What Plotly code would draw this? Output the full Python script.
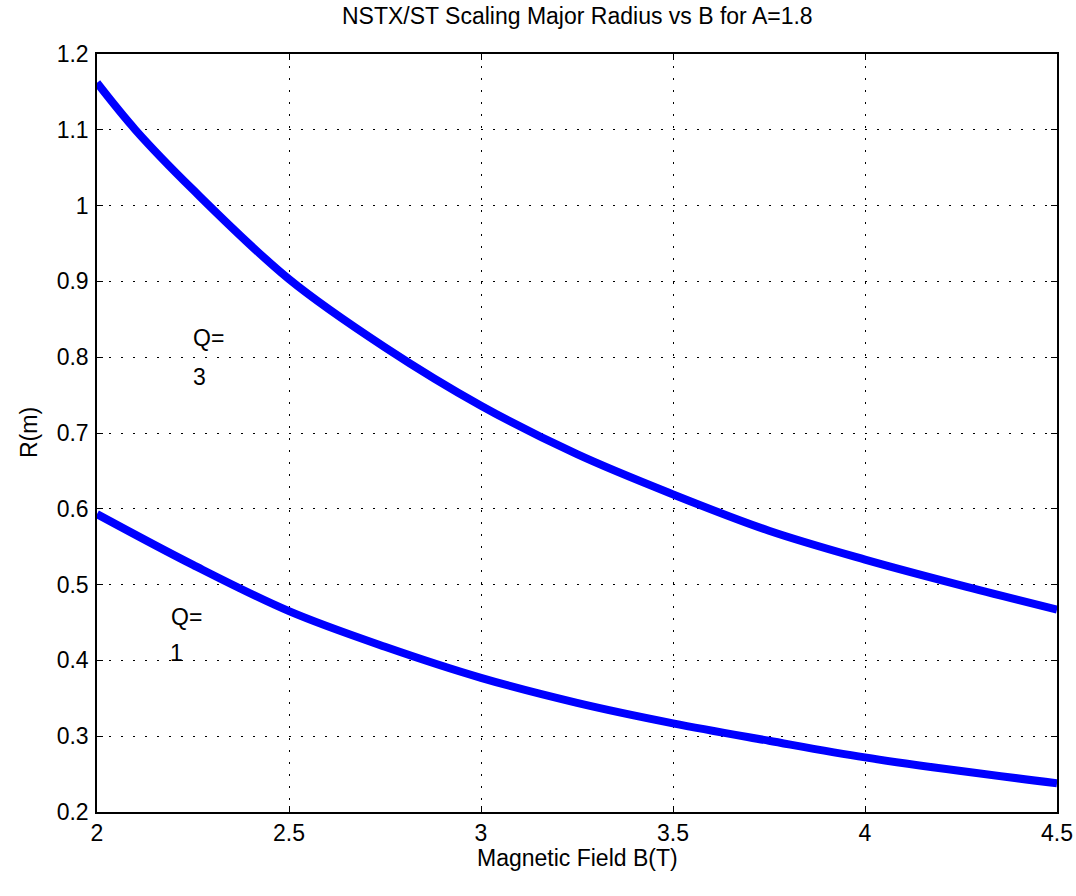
import plotly.graph_objects as go

B_q3 = [2.0, 2.1, 2.25, 2.5, 2.75, 3.0, 3.25, 3.5, 3.75, 4.0, 4.25, 4.5]
R_q3 = [1.162, 1.1, 1.021, 0.903, 0.813, 0.736, 0.672, 0.619, 0.571, 0.533, 0.499, 0.467]
B_q1 = [2.0, 2.25, 2.5, 2.75, 3.0, 3.25, 3.5, 3.75, 4.0, 4.25, 4.5]
R_q1 = [0.593, 0.526, 0.465, 0.418, 0.377, 0.344, 0.317, 0.294, 0.272, 0.254, 0.238]

x_ticks = [2, 2.5, 3, 3.5, 4, 4.5]
x_labels = ["2", "2.5", "3", "3.5", "4", "4.5"]
y_ticks = [0.2, 0.3, 0.4, 0.5, 0.6, 0.7, 0.8, 0.9, 1.0, 1.1, 1.2]
y_labels = ["0.2", "0.3", "0.4", "0.5", "0.6", "0.7", "0.8", "0.9", "1", "1.1", "1.2"]

labels = [
    (2.29, 0.825, "Q="), (2.266, 0.774, "3"),
    (2.234, 0.457, "Q="), (2.208, 0.410, "1"),
]

TITLE = "NSTX/ST Scaling Major Radius vs B for A=1.8"
XTITLE = "Magnetic Field B(T)"
YTITLE = "R(m)"

FONT = "Liberation Sans"
FS = 23
fig = go.Figure()
for xs, ys in ((B_q3, R_q3), (B_q1, R_q1)):
    fig.add_trace(go.Scatter(x=xs, y=ys, mode="lines",
                             line=dict(color="#0000FF", width=8, shape="spline", smoothing=1.0),
                             showlegend=False, hoverinfo="skip"))

for x, y, t in labels:
    fig.add_annotation(x=x, y=y, text=t, showarrow=False, font=dict(family=FONT, size=FS, color="black"))

# titles placed relative to the plot area
fig.add_annotation(xref="paper", yref="paper", x=0.5, y=1, yshift=38, text=TITLE, showarrow=False,
                   xanchor="center", yanchor="middle", borderpad=0,
                   font=dict(family=FONT, size=FS, color="black"))
fig.add_annotation(xref="paper", yref="paper", x=0.5, y=0, yshift=-46, text=XTITLE, showarrow=False,
                   xanchor="center", yanchor="middle", font=dict(family=FONT, size=FS, color="black"))
fig.add_annotation(xref="paper", yref="paper", x=0, y=0.5, xshift=-68, text=YTITLE, showarrow=False,
                   textangle=-90, xanchor="center", yanchor="middle", font=dict(family=FONT, size=FS, color="black"))

axis_common = dict(showline=True, linecolor="black", linewidth=1.5, mirror="ticks", ticks="inside", ticklen=6,
                   tickcolor="black", showgrid=True, gridcolor="black", gridwidth=1, griddash="2px,10px",
                   zeroline=False, automargin=False, tickfont=dict(family=FONT, size=FS, color="black"))
fig.update_xaxes(range=[2, 4.5], tickvals=x_ticks, ticktext=x_labels, **axis_common)
fig.update_yaxes(range=[0.2, 1.2], tickvals=y_ticks, ticktext=y_labels, ticklabelstandoff=2, **axis_common)
fig.update_layout(
    width=1076, height=896,
    margin=dict(l=97, r=19, t=54, b=84, autoexpand=False),
    paper_bgcolor="white", plot_bgcolor="white",
)
# remove the browser's default 8px body margin so the figure sits at the page origin
fig.write_html("out.html", config={"displayModeBar": False},
               post_script="document.body.style.margin='0';")
